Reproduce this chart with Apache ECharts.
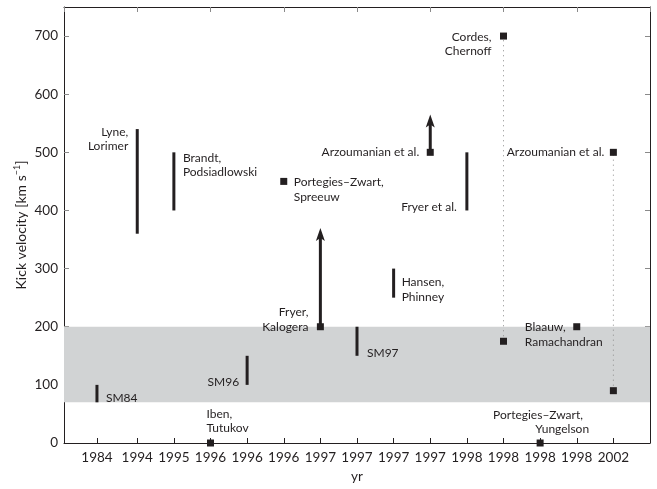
<!DOCTYPE html>
<html>
<head>
<meta charset="utf-8">
<script src="https://cdn.jsdelivr.net/npm/echarts@6/dist/echarts.min.js"></script>
<style>
  html, body { margin: 0; padding: 0; background: #fff; }
  #chart { width: 657px; height: 489px; }
</style>
</head>
<body>
<div id="chart"></div>
<script>
// tick positions and labels on the year axis
const xPos = [0.9, 2, 3, 4, 5, 6, 7, 8, 9, 10, 11, 12, 13, 14, 15]
const years = ['1984', '1994', '1995', '1996', '1996', '1996', '1997', '1997', '1997', '1997', '1998', '1998', '1998', '1998', '2002']

// velocity ranges (vertical bars)
const barX = [0.9, 2, 3, 5, 8, 9, 11]
const barLow = [70, 360, 400, 100, 150, 250, 400]
const barHigh = [100, 540, 500, 150, 200, 300, 500]

// single estimates (squares)
const pointX = [4, 6, 7, 10, 12, 12, 13, 14, 15, 15]
const pointY = [0, 450, 200, 500, 700, 175, 0, 200, 500, 90]

// lower limits (arrows)
const arrowX = [7, 10]
const arrowFrom = [200, 500]
const arrowTo = [370, 565]

// dotted links between two estimates
const linkX = [12, 15]
const linkFrom = [175, 90]
const linkTo = [700, 500]

// shaded band
const bandLow = 70
const bandHigh = 200

// author labels, each tied to a mark [text, x, y]
const authors = [
  ['SM84', 0.9, 70],
  ['Lyne,\nLorimer', 2, 540],
  ['Brandt,\nPodsiadlowski', 3, 500],
  ['Iben,\nTutukov', 4, 0],
  ['SM96', 5, 100],
  ['Portegies\u2013Zwart,\nSpreeuw', 6, 450],
  ['Fryer,\nKalogera', 7, 200],
  ['SM97', 8, 150],
  ['Hansen,\nPhinney', 9, 250],
  ['Arzoumanian et al.', 10, 500],
  ['Fryer et al.', 11, 400],
  ['Cordes,\nChernoff', 12, 700],
  ['Portegies\u2013Zwart,  \nYungelson', 13, 0],
  ['Blaauw,\nRamachandran', 14, 200],
  ['Arzoumanian et al.', 15, 500]
]
// label placement: [align, dx, dy] in pixels from the mark
const labelPlace = [
  ['left', 9, -4], ['right', -9, 10], ['left', 9, 13], ['left', -4, -22],
  ['right', -8, -3], ['left', 10, 8], ['right', -12, -7], ['left', 10, -3],
  ['left', 8, -8], ['right', -11, 0], ['right', -10, -3], ['right', -12, 8],
  ['right', 49, -21], ['left', -52, 8], ['right', -9, 0]
]

const ink = '#231f20'
const font = 'Lato, "DejaVu Sans", sans-serif'

const chart = echarts.init(document.getElementById('chart'), null, { renderer: 'canvas' })

const option = {
  animation: false,
  grid: { left: 64, right: 7, top: 7, bottom: 35 },
  xAxis: [
    {
      type: 'value', min: 0, max: 16, position: 'bottom',
      name: 'yr', nameLocation: 'middle', nameGap: 27, nameMoveOverlap: false,
      nameTextStyle: { fontFamily: font, fontSize: 13.5, color: ink },
      axisLine: { show: true, onZero: false, lineStyle: { color: ink, width: 1 } },
      axisTick: { inside: true, length: 5, customValues: xPos, lineStyle: { color: ink } },
      axisLabel: {
        customValues: xPos, margin: 8,
        fontFamily: font, fontSize: 13.5, color: ink,
        formatter: v => years[xPos.indexOf(v)]
      },
      splitLine: { show: false }
    },
    {
      type: 'value', min: 0, max: 16, interval: 2, position: 'top',
      axisLine: { show: true, onZero: false, lineStyle: { color: ink, width: 1 } },
      axisTick: { inside: true, length: 5, lineStyle: { color: '#8a8a8a' } },
      axisLabel: { show: false },
      splitLine: { show: false }
    }
  ],
  yAxis: [
    {
      type: 'value', min: 0, max: 750, position: 'left',
      name: 'Kick velocity [km s{sup|\u22121}]', nameLocation: 'middle', nameGap: 34, nameMoveOverlap: false,
      nameTextStyle: {
        fontFamily: font, fontSize: 14, color: ink,
        rich: { sup: { fontFamily: font, fontSize: 9, color: ink, verticalAlign: 'top', padding: [0, 0, 8, 0] } }
      },
      axisLine: { show: true, onZero: false, lineStyle: { color: ink, width: 1 } },
      axisTick: { inside: true, length: 5, customValues: [100, 200, 300, 400, 500, 600, 700], lineStyle: { color: '#8a8a8a' } },
      axisLabel: { customValues: [0, 100, 200, 300, 400, 500, 600, 700], margin: 6, fontFamily: font, fontSize: 13.5, color: ink },
      splitLine: { show: false }
    },
    {
      type: 'value', min: 0, max: 750, position: 'right',
      axisLine: { show: true, onZero: false, lineStyle: { color: ink, width: 1 } },
      axisTick: { inside: true, length: 5, customValues: [100, 200, 300, 400, 500, 600, 700], lineStyle: { color: '#8a8a8a' } },
      axisLabel: { show: false },
      splitLine: { show: false }
    }
  ],
  series: [
    {
      // shaded band
      type: 'custom', z: 1, silent: true,
      data: [[bandLow, bandHigh]],
      renderItem: (params, api) => {
        const cs = params.coordSys
        const yTop = api.coord([0, api.value(1)])[1]
        const yBot = api.coord([0, api.value(0)])[1]
        return { type: 'rect', shape: { x: cs.x, y: yTop, width: cs.width, height: yBot - yTop }, style: { fill: '#d1d3d4' } }
      }
    },
    {
      // dotted links
      type: 'custom', z: 2, silent: true,
      data: linkX.map((x, i) => [x, linkFrom[i], linkTo[i]]),
      renderItem: (params, api) => {
        const a = api.coord([api.value(0), api.value(1)])
        const b = api.coord([api.value(0), api.value(2)])
        return { type: 'line', shape: { x1: a[0], y1: a[1], x2: b[0], y2: b[1] }, style: { stroke: '#8c8c8c', lineWidth: 1, lineDash: [1, 4] } }
      }
    },
    {
      // velocity ranges
      type: 'custom', z: 3, silent: true,
      data: barX.map((x, i) => [x, barLow[i], barHigh[i]]),
      renderItem: (params, api) => {
        const a = api.coord([api.value(0), api.value(1)])
        const b = api.coord([api.value(0), api.value(2)])
        return { type: 'line', shape: { x1: a[0], y1: a[1], x2: b[0], y2: b[1] }, style: { stroke: ink, lineWidth: 3 } }
      }
    },
    {
      // arrows (lower limits)
      type: 'custom', z: 3, silent: true,
      data: arrowX.map((x, i) => [x, arrowFrom[i], arrowTo[i]]),
      renderItem: (params, api) => {
        const a = api.coord([api.value(0), api.value(1)])
        const b = api.coord([api.value(0), api.value(2)])
        return {
          type: 'group',
          children: [
            { type: 'line', shape: { x1: a[0], y1: a[1], x2: b[0], y2: b[1] + 8 }, style: { stroke: ink, lineWidth: 3 } },
            { type: 'polygon', shape: { points: [[b[0], b[1]], [b[0] - 4.5, b[1] + 13], [b[0], b[1] + 10], [b[0] + 4.5, b[1] + 13]] }, style: { fill: ink } }
          ]
        }
      }
    },
    {
      // single estimates
      type: 'scatter', z: 4, silent: true,
      symbol: 'rect', symbolSize: 7,
      itemStyle: { color: ink, opacity: 1 },
      data: pointX.map((x, i) => [x, pointY[i]])
    },
    {
      // author labels
      type: 'custom', z: 5, silent: true,
      data: authors.map((a, i) => [a[1], a[2], i]),
      renderItem: (params, api) => {
        const i = api.value(2)
        const p = api.coord([api.value(0), api.value(1)])
        const place = labelPlace[i]
        return {
          type: 'text',
          style: {
            text: authors[i][0],
            x: p[0] + place[1], y: p[1] + place[2],
            align: place[0], verticalAlign: 'middle',
            fontFamily: font, fontSize: 12, lineHeight: 14.5, fill: ink
          }
        }
      }
    }
  ]
}
chart.setOption(option)
</script>
</body>
</html>
